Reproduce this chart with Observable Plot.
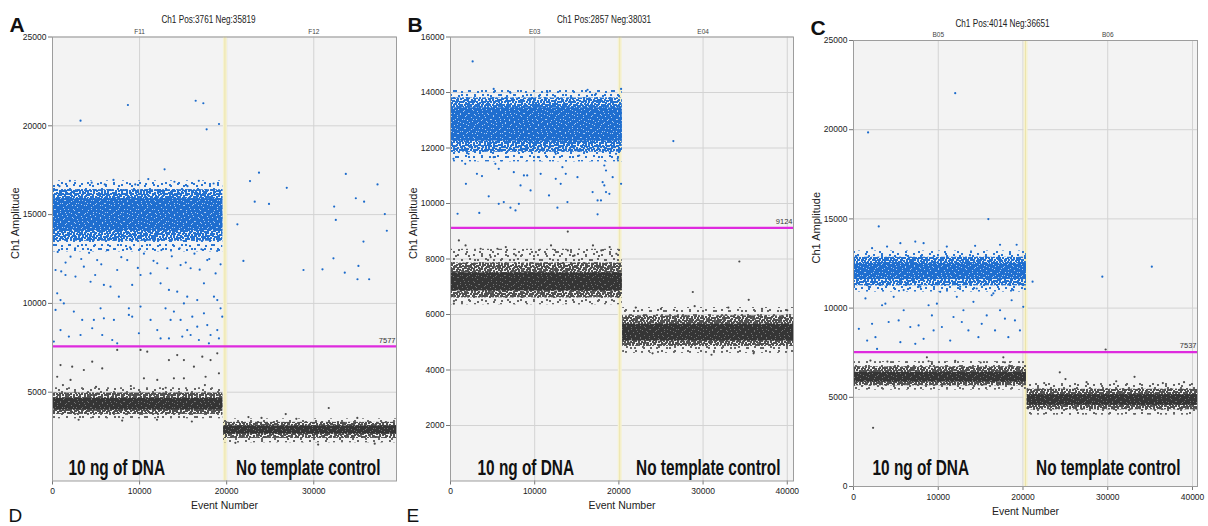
<!DOCTYPE html>
<html><head><meta charset="utf-8">
<script src="https://cdn.jsdelivr.net/npm/d3@7"></script>
<script src="https://cdn.jsdelivr.net/npm/@observablehq/plot@0.6"></script>
<style>
body{margin:0;background:#fff;}
#wrap{position:relative;width:1208px;height:526px;overflow:hidden;background:#fff;}
#wrap svg{position:absolute;top:0;overflow:visible;}
</style></head><body><div id="wrap"></div>
<script>
// ---------------- data ----------------
const panelLetters = ["A", "B", "C"];
const nextRowLetters = ["D", "E", null];
const panelTitles = ["Ch1 Pos:3761 Neg:35819", "Ch1 Pos:2857 Neg:38031", "Ch1 Pos:4014 Neg:36651"];
const wellNames = [["F11", "F12"], ["E03", "E04"], ["B05", "B06"]];
const wellCenters = [10000, 30000];
const wellSplit = [19800, 20100, 20300];
const thresholds = [7577, 9124, 7537];
const xMaxes = [39500, 40740, 40590];
const yMaxes = [25000, 16000, 25000];
const yTicksA = [5000, 10000, 15000, 20000, 25000];
const yTicksB = [2000, 4000, 6000, 8000, 10000, 12000, 14000, 16000];
const yTicksC = [0, 5000, 10000, 15000, 20000, 25000];
const xTicksA = [0, 10000, 20000, 30000];
const xTicksBC = [0, 10000, 20000, 30000, 40000];
const sampleLabels = ["10 ng of DNA", "No template control"];
const yLabel = "Ch1 Amplitude";
const xLabel = "Event Number";

// dense droplet clusters: event range and amplitude range of each density layer
const bandsA = [
  {kind: "pos", layer: 0, x1: 0, x2: 19550, lo: 12900, hi: 16900},
  {kind: "pos", layer: 1, x1: 0, x2: 19550, lo: 13500, hi: 16400},
  {kind: "pos", layer: 2, x1: 0, x2: 19550, lo: 14100, hi: 15900},
  {kind: "neg", layer: 0, x1: 0, x2: 19550, lo: 3500, hi: 5250},
  {kind: "neg", layer: 1, x1: 0, x2: 19550, lo: 3750, hi: 4950},
  {kind: "neg", layer: 2, x1: 0, x2: 19550, lo: 4000, hi: 4650},
  {kind: "neg", layer: 0, x1: 19650, x2: 39500, lo: 2150, hi: 3500},
  {kind: "neg", layer: 1, x1: 19650, x2: 39500, lo: 2400, hi: 3300},
  {kind: "neg", layer: 2, x1: 19650, x2: 39500, lo: 2650, hi: 3100}
];
const bandsB = [
  {kind: "pos", layer: 0, x1: 0, x2: 20400, lo: 11500, hi: 14100},
  {kind: "pos", layer: 1, x1: 0, x2: 20400, lo: 11850, hi: 13800},
  {kind: "pos", layer: 2, x1: 0, x2: 20400, lo: 12250, hi: 13450},
  {kind: "neg", layer: 0, x1: 0, x2: 20400, lo: 6350, hi: 8350},
  {kind: "neg", layer: 1, x1: 0, x2: 20400, lo: 6600, hi: 7850},
  {kind: "neg", layer: 2, x1: 0, x2: 20400, lo: 6850, hi: 7500},
  {kind: "neg", layer: 0, x1: 20450, x2: 40740, lo: 4600, hi: 6250},
  {kind: "neg", layer: 1, x1: 20450, x2: 40740, lo: 4850, hi: 5950},
  {kind: "neg", layer: 2, x1: 20450, x2: 40740, lo: 5050, hi: 5650}
];
const bandsC = [
  {kind: "pos", layer: 0, x1: 0, x2: 20400, lo: 10900, hi: 13200},
  {kind: "pos", layer: 1, x1: 0, x2: 20400, lo: 11250, hi: 12850},
  {kind: "pos", layer: 2, x1: 0, x2: 20400, lo: 11600, hi: 12500},
  {kind: "neg", layer: 0, x1: 0, x2: 20400, lo: 5400, hi: 7000},
  {kind: "neg", layer: 1, x1: 0, x2: 20400, lo: 5650, hi: 6700},
  {kind: "neg", layer: 2, x1: 0, x2: 20400, lo: 5850, hi: 6400},
  {kind: "neg", layer: 0, x1: 20500, x2: 40590, lo: 4000, hi: 5800},
  {kind: "neg", layer: 1, x1: 20500, x2: 40590, lo: 4300, hi: 5450},
  {kind: "neg", layer: 2, x1: 20500, x2: 40590, lo: 4550, hi: 5150}
];

// individual droplets outside the dense clusters [event, amplitude]
const posA = [
  [3220,20290],[8660,21170],[16440,21410],[17320,21270],[17700,19800],[19120,20100],
  [12870,17550],[2000,16900],[4500,16800],[7000,16950],[9500,16700],[11000,17000],[14000,16850],[16800,16900],[18500,16750],[800,16600],[6000,16700],[15500,16600],
  [600,12900],[1500,12300],[2600,13100],[3300,12500],[4200,12850],[5600,12200],[6400,13000],[7900,12600],[8900,13150],[10500,12800],[11600,12400],[12500,13000],[13700,12650],[14600,13100],[15300,12300],[16300,12800],[17100,13050],[18000,12500],[18900,12950],[19300,12200],[1000,11800],[9800,12000],[16900,11900],[4900,11600],
  [1490,11600],[2640,11510],[4370,11220],[5900,11040],[6660,10940],[7620,10380],[9150,11040],[10110,11600],[11260,11690],[12410,11130],[13370,10760],[14320,10660],[15470,10380],[16620,10190],[17390,11130],[18540,10380],[18920,10190],[540,10570],[920,10190],[350,9630],[2450,9540],[3410,9070],[4750,9070],[5520,9720],[5900,9160],[7050,9070],[8770,9720],[8770,9350],[9150,9250],[10110,9820],[11260,9070],[12030,8500],[12980,9720],[13560,9070],[13940,9540],[14710,9070],[15090,10000],[15470,8500],[16050,9250],[16620,8690],[17390,9440],[17770,8780],[18150,8220],[18920,8500],[19300,9720],[19490,9250],[920,8500],[1880,8130],[3220,8220],[4560,8600],[5710,8220],[6860,7940],[7430,7750],[9920,8320],[12410,8030],[13370,8030],[14900,8130],[15860,8220],[16810,7940],[17960,7750],[19110,8030],[150,7850],[1300,10000],[350,11880],[2070,12630],[3600,12070],[5130,12440],[7430,11880],[8580,12440],[12030,12260],[13180,11980],[14710,12160],[15860,11980],[17770,12440],[18730,11690],
  [21230,14450],[22680,16890],[23710,17360],[23220,15730],[24860,15600],[26900,16510],[21920,12390],[28820,11880],[31000,11920],[32260,12540],[32340,15450],[32530,14700],[33560,11730],[33680,17290],[34830,15920],[35020,11360],[35130,12110],[35780,15730],[35710,13480],[36360,11360],[37320,16700],[38160,15030],[38390,14090]
];
const negA = [
  [920,6530],[2260,6440],[3600,6250],[4560,6720],[5710,6340],[7430,7380],[10110,7380],[10880,7280],[13370,6810],[14320,7090],[15090,6810],[16240,6440],[17200,7000],[18150,6810],[18920,7190],[540,5870],[2070,5690],[10500,5780],[12030,5690],[13940,5780],[15090,5780],[17580,5870],[19110,6060],
  [1200,5400],[5000,5300],[9000,5350],[13000,5250],[17500,5400],[3000,3450],[8000,3400],[12000,3450],[16000,3350],
  [26780,3770],[31720,4110],[22500,3600],[24000,3550],[28000,3500],[35000,3550],[30500,2050],[21000,2150],[37000,2100]
];
const posB = [
  [2630,15120],[5130,14130],[7120,13990],[11500,14010],[16280,14100],[17270,13950],[20260,14130],
  [360,11610],[1750,11430],[3140,11070],[3740,10990],[1830,10710],[5130,11670],[5330,11430],[5730,11250],[7520,11130],[8320,10650],[8720,11010],[9110,11010],[9510,10470],[10710,11070],[11700,10290],[12500,10890],[13090,10710],[13290,11310],[13690,11070],[15080,10950],[15280,11730],[16880,10410],[17470,10110],[17870,10110],[18070,10770],[18270,10650],[18470,10410],[18870,10350],[19260,10950],[20260,10710],[4540,10260],[5730,9990],[6330,10050],[7120,9850],[7720,9750],[8120,9990],[840,9630],[3420,9660],[12700,9850],[13890,10050],[17470,9610],[19660,11790],[19860,11610],[18270,11370],[18470,11190],[14890,11910],[12500,11790],[10510,11670],[8920,11910],[4140,11910],[2150,11790],
  [26470,12250]
];
const negB = [
  [13930,8990],[995,8670],[1790,8490],[3580,8370],[5570,8370],[6570,8430],[7760,8130],[10150,8250],[11940,8490],[12540,8250],[13930,8310],[16920,8490],[17910,8310],[18910,8430],[19700,8190],[14730,8130],[4780,8070],[400,6390],
  [34310,7910],[28780,6810],[35420,6530],
  [22000,6250],[25000,6200],[29000,6300],[33000,6250],[37000,6200],[40000,6150],[24000,4600],[31000,4550],[36000,4600]
];
const posC = [
  [1720,19850],[12000,22050],[2980,14580],[15910,14990],
  [630,8840],[1410,10540],[1610,8180],[2190,9120],[2590,8370],[2780,7710],[3370,10160],[3760,10250],[4150,9220],[4740,10630],[5330,9310],[5530,8090],[5920,9880],[6700,8940],[7290,8000],[7680,9030],[8270,8280],[8860,10160],[9250,9590],[9450,8750],[9840,10250],[10430,8940],[11410,8180],[11800,9500],[12190,10630],[12780,9220],[12970,9880],[13560,8750],[14150,10350],[14740,8370],[15130,9120],[15720,9590],[16310,10720],[16700,8750],[17290,9880],[17870,9410],[18270,8370],[18660,10440],[19050,9310],[19640,8750],[20030,10070],
  [1800,11190],[3960,11290],[5920,11010],[7880,11190],[10230,10910],[12580,11190],[14540,11100],[16500,10820],[18850,11010],
  [3960,13450],[5530,13640],[7290,13730],[8270,13640],[11010,13450],[14350,13490],[17290,13550],[19250,13550],[2190,13360],
  [21130,11480],[29360,11760],[35200,12320]
];
const negC = [
  [2000,7060],[8660,7240],[8860,7020],[9250,6870],[17680,7240],[17870,6960],[18380,6770],[29750,7680],[24340,6400],[25010,6020],[33160,6150],[2310,3290],
  [4000,7000],[12000,7050],[15000,6950],[22500,5800],[27500,5850],[31000,5900],[36500,5800],[39000,5850]
];

// ---------------- layout & style ----------------
const layout = [
  {left: 0,   width: 404, mL: 52, mR: 8,  mT: 36.5, mB: 45.5, labDy: -6.5, titleDx: -16},
  {left: 400, width: 400, mL: 50, mR: 7,  mT: 36.5, mB: 45.5, labDy: -6.5, titleDx: -18},
  {left: 800, width: 408, mL: 53, mR: 11, mT: 40,   mB: 40,   labDy: -12,  titleDx: -23}
];
const labDx = [[16, -16], [27, -13], [19, -17]];
const FONT = "'Liberation Sans', Arial, sans-serif";
const condense = new Map([[sampleLabels[0], 0.70], [sampleLabels[1], 0.70]]);
panelTitles.forEach(t => condense.set(t, 0.82));

// droplet-texture fill patterns (style only): two tiles of co-prime size overlaid per layer
const tileDenseA = [[0,0],[3,0],[6,1],[9,0],[12,1],[1,3],[4,2],[8,3],[11,4],[0,5],[3,5],[6,5],[9,6],[12,7],[2,7],[5,8],[8,8],[11,9],[0,9],[3,10],[6,10],[9,10]];
const tileDenseB = [[1,0],[5,2],[8,1],[0,4],[4,5],[9,5],[2,7],[7,7]];
const tileSparseA = [[1,1],[9,2],[5,6],[13,7],[2,10],[10,11]];
const tileSparseB = [[3,2],[9,6],[1,9]];
const tileSpecksA = [[2,1],[7,3],[11,0],[4,6],[9,8],[1,9],[12,5],[6,11]];
const tileSpecksB = [[1,2],[6,5],[3,7]];
const defsSvg = d3.create("svg").attr("width", 0).attr("height", 0).style("position", "absolute").style("left", "0px");
const defs = defsSvg.append("defs");
function addPattern(id, w, h, bg, color, pts, s) {
  const p = defs.append("pattern").attr("id", id).attr("patternUnits", "userSpaceOnUse").attr("width", w).attr("height", h);
  if (bg) p.append("rect").attr("width", w).attr("height", h).attr("fill", bg);
  for (const [x, y] of pts) p.append("rect").attr("x", x).attr("y", y).attr("width", s).attr("height", s).attr("fill", color);
}
addPattern("posL0a", 16, 14, null, "#2a76d2", tileSparseA, 2);
addPattern("posL0b", 13, 11, null, "#2a76d2", tileSparseB, 2);
addPattern("posL1a", 14, 12, null, "#2371d0", tileDenseA, 2);
addPattern("posL1b", 11, 9, null, "#2371d0", tileDenseB, 2);
addPattern("posL2a", 14, 12, "#1f6ecf", "#b9d2f1", tileSpecksA, 1);
addPattern("posL2b", 9, 9, null, "#9fc1ec", tileSpecksB, 1);
addPattern("negL0a", 16, 14, null, "#666666", tileSparseA, 2);
addPattern("negL0b", 13, 11, null, "#666666", tileSparseB, 2);
addPattern("negL1a", 14, 12, null, "#505050", tileDenseA, 2);
addPattern("negL1b", 11, 9, null, "#505050", tileDenseB, 2);
addPattern("negL2a", 14, 12, "#353535", "#777777", tileSpecksA, 1);
addPattern("negL2b", 9, 9, null, "#6a6a6a", tileSpecksB, 1);

const panels = [
  {yTicks: yTicksA, xTicks: xTicksA, bands: bandsA, pos: posA, neg: negA},
  {yTicks: yTicksB, xTicks: xTicksBC, bands: bandsB, pos: posB, neg: negB},
  {yTicks: yTicksC, xTicks: xTicksBC, bands: bandsC, pos: posC, neg: negC}
];

const wrap = document.getElementById("wrap");
wrap.appendChild(defsSvg.node());
panels.forEach((p, i) => {
  const L = layout[i];
  const split = wellSplit[i];
  const bandMarks = [];
  for (const kind of ["neg", "pos"]) {
    for (const layer of [0, 1, 2]) {
      const rows = p.bands.filter(b => b.kind === kind && b.layer === layer);
      for (const v of ["a", "b"]) {
        bandMarks.push(Plot.rect(rows, {x1: "x1", x2: "x2", y1: "lo", y2: "hi", fill: `url(#${kind}L${layer}${v})`}));
      }
    }
  }
  const marks = [
    Plot.frame({fill: "#f3f3f3", stroke: null}),
    Plot.ruleY(p.yTicks, {stroke: "#d3d3d3"}),
    Plot.ruleX(p.xTicks.filter(t => t > 0), {stroke: "#d3d3d3"}),
    Plot.ruleX([split], {stroke: "#f6f2d2", strokeWidth: 4}),
    Plot.ruleX([split], {stroke: "#ece4ab", strokeWidth: 1}),
    ...bandMarks,
    Plot.dot(p.neg, {x: d => d[0], y: d => d[1], r: 1.1, fill: "#4a4a4a"}),
    Plot.dot(p.pos, {x: d => d[0], y: d => d[1], r: 1.1, fill: "#1a6acb"}),
    Plot.ruleY([thresholds[i]], {stroke: "#de2ade", strokeWidth: 2.3}),
    Plot.text([thresholds[i]], {x: () => xMaxes[i], y: d => d, text: d => String(d), textAnchor: "end", dx: -1, dy: -6, fontSize: 7.5, fill: "#333"}),
    Plot.text(wellNames[i], {x: (d, j) => wellCenters[j], frameAnchor: "top", dy: -8, fontSize: 6.5, fill: "#444"}),
    Plot.axisY(p.yTicks, {tickSize: 4, tickPadding: 2, tickFormat: d => String(d), label: null, fontSize: 8.5, stroke: "#777", color: "#222"}),
    Plot.axisX(p.xTicks, {tickSize: 4, tickPadding: 3, tickFormat: d => String(d), label: null, fontSize: 8.5, stroke: "#777", color: "#222"}),
    Plot.text([yLabel], {frameAnchor: "left", rotate: -90, dx: -37, fontSize: 11, fill: "#222"}),
    Plot.text([xLabel], {frameAnchor: "bottom", dy: 28, fontSize: 10.5, fill: "#222"}),
    Plot.text([panelTitles[i]], {frameAnchor: "top", dx: L.titleDx, dy: -21, fontSize: 10, fill: "#222"}),
    Plot.text([panelLetters[i]], {frameAnchor: "top-left", textAnchor: "start", dx: -43, dy: -20, fontSize: 21, fontWeight: "bold", fill: "#111"}),
    Plot.text([sampleLabels[0]], {frameAnchor: "bottom-left", textAnchor: "start", lineAnchor: "bottom", dx: labDx[i][0], dy: L.labDy, fontSize: 22, fontWeight: "bold", fill: "#111"}),
    Plot.text([sampleLabels[1]], {frameAnchor: "bottom-right", textAnchor: "end", lineAnchor: "bottom", dx: labDx[i][1], dy: L.labDy, fontSize: 22, fontWeight: "bold", fill: "#111"}),
    Plot.frame({stroke: "#9d9d9d"})
  ];
  if (nextRowLetters[i]) {
    marks.push(Plot.text([nextRowLetters[i]], {frameAnchor: "bottom-left", textAnchor: "start", lineAnchor: "bottom", dx: -44, dy: 40.5, fontSize: 19, fill: "#111"}));
  }
  const svg = Plot.plot({
    width: L.width, height: 526,
    marginLeft: L.mL, marginRight: L.mR, marginTop: L.mT, marginBottom: L.mB,
    x: {domain: [0, xMaxes[i]]},
    y: {domain: [0, yMaxes[i]]},
    style: {fontFamily: FONT, background: "transparent", overflow: "visible"},
    marks
  });
  svg.style.left = L.left + "px";
  wrap.appendChild(svg);
  // horizontal condensing of the narrow-font labels, scaled about each text's own anchor
  svg.querySelectorAll("text").forEach(t => {
    const k = condense.get(t.textContent);
    if (!k) return;
    const tr = t.getAttribute("transform");
    if (tr) {
      t.setAttribute("transform", `${tr} scale(${k},1)`);
    } else {
      const x = parseFloat(t.getAttribute("x")) || 0;
      t.setAttribute("transform", `translate(${x},0) scale(${k},1)`);
      t.setAttribute("x", 0);
    }
  });
});
</script></body></html>
